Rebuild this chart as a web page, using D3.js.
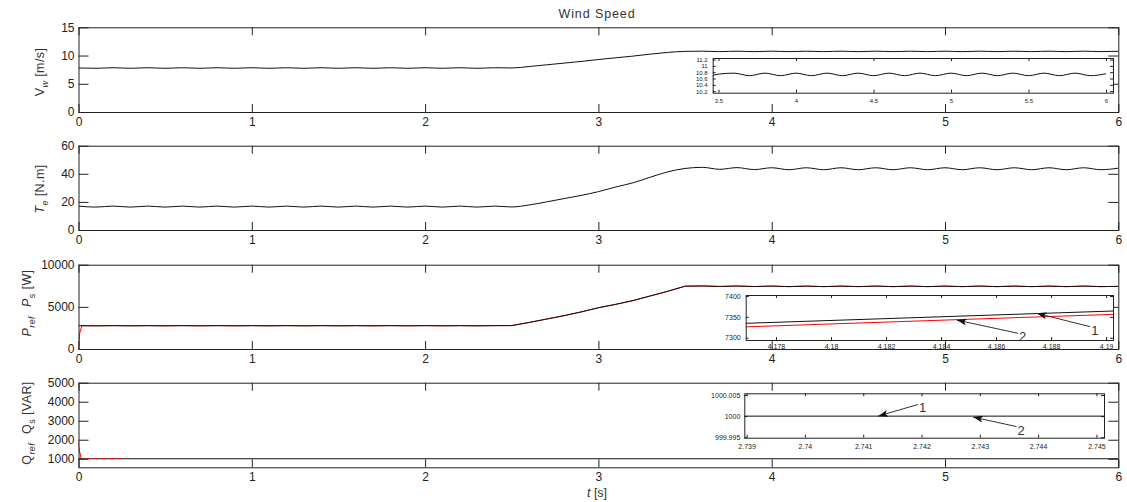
<!DOCTYPE html>
<html>
<head>
  <meta charset="utf-8">
  <title>Wind Speed</title>
  <style>
  body {
    margin: 0px;
    background: #fff;
  }
  svg {
    display: block;
    font-family: "Liberation Sans", Arial, sans-serif;
  }
  .line {
    fill: none;
    stroke: #111;
    stroke-width: 1px;
  }
  .ref {
    fill: none;
    stroke: #f00;
    stroke-width: 1px;
  }
  .frame {
    fill: none;
    stroke: #222;
    stroke-width: 1px;
  }
  .arrow {
    stroke: #333;
    stroke-width: 1px;
  }
  </style>
</head>
<body>
  <svg width="1127" height="502"></svg>
  <script src="https://d3js.org/d3.v7.min.js"></script>
  <script>
  var tGrid = [0, 0.1, 0.2, 0.3, 0.4, 0.5, 0.6, 0.7, 0.8, 0.9,
    1, 1.1, 1.2, 1.3, 1.4, 1.5, 1.6, 1.7, 1.8, 1.9,
    2, 2.1, 2.2, 2.3, 2.4, 2.5, 2.6, 2.7, 2.8, 2.9,
    3, 3.1, 3.2, 3.3, 3.4, 3.5, 3.6, 3.7, 3.8, 3.9,
    4, 4.1, 4.2, 4.3, 4.4, 4.5, 4.6, 4.7, 4.8, 4.9,
    5, 5.1, 5.2, 5.3, 5.4, 5.5, 5.6, 5.7, 5.8, 5.9, 6];

  var vWind = [7.80, 7.74, 7.84, 7.74, 7.84, 7.74, 7.84, 7.74, 7.84, 7.74,
    7.84, 7.74, 7.84, 7.74, 7.84, 7.74, 7.84, 7.74, 7.84, 7.74,
    7.84, 7.74, 7.84, 7.74, 7.84, 7.80, 8.05, 8.35, 8.65, 8.95,
    9.30, 9.60, 9.90, 10.25, 10.55, 10.74, 10.77, 10.69, 10.77, 10.69,
    10.77, 10.69, 10.77, 10.69, 10.77, 10.69, 10.77, 10.69, 10.77, 10.69,
    10.77, 10.69, 10.77, 10.69, 10.77, 10.69, 10.77, 10.69, 10.77, 10.69, 10.75];

  var torque = [17.0, 16.3, 17.0, 16.3, 17.0, 16.3, 17.0, 16.3, 17.0, 16.3,
    17.0, 16.3, 17.0, 16.3, 17.0, 16.3, 17.0, 16.3, 17.0, 16.3,
    17.0, 16.3, 17.0, 16.3, 17.0, 16.4, 17.8, 20.0, 22.3, 24.6,
    27.3, 30.6, 33.6, 37.6, 41.4, 43.8, 44.6, 43.2, 44.4, 43.0,
    44.3, 42.9, 44.3, 42.9, 44.3, 42.9, 44.3, 42.9, 44.3, 42.9,
    44.3, 42.9, 44.3, 42.9, 44.3, 42.9, 44.3, 42.9, 44.3, 42.9, 44.0];

  var pStator = [2770, 2750, 2770, 2750, 2770, 2750, 2770, 2750, 2770, 2750,
    2770, 2750, 2770, 2750, 2770, 2750, 2770, 2750, 2770, 2750,
    2770, 2750, 2770, 2750, 2770, 2780, 3150, 3550, 3950, 4400,
    4900, 5300, 5750, 6300, 6850, 7450, 7480, 7420, 7470, 7410,
    7460, 7400, 7460, 7400, 7460, 7400, 7460, 7400, 7460, 7400,
    7460, 7400, 7460, 7400, 7460, 7400, 7460, 7400, 7460, 7400, 7430];

  var pRefGrid = [2770, 2750, 2770, 2750, 2770, 2750, 2770, 2750, 2770, 2750,
    2770, 2750, 2770, 2750, 2770, 2750, 2770, 2750, 2770, 2750,
    2770, 2750, 2770, 2750, 2770, 2780, 3140, 3540, 3945, 4390,
    4890, 5295, 5740, 6290, 6845, 7450, 7480, 7420, 7470, 7410,
    7460, 7400, 7460, 7400, 7460, 7400, 7460, 7400, 7460, 7400,
    7460, 7400, 7460, 7400, 7460, 7400, 7460, 7400, 7460, 7400, 7430];
  var pRefStartTime = [0, 0.003, 0.008, 0.02];
  var pRefStartValue = [0, 1000, 2000, 2760];

  var qStatorTime = [0, 6];
  var qStatorValue = [1000, 1000];
  var qRefTime = [0, 0.002, 0.015];
  var qRefValue = [1900, 1600, 1000];
  var qRefDashTime = [0.045, 0.25];
  var qRefDashValue = [1012, 1012];

  // zoomed views
  var pInsetTime = [4.1769, 4.19025];
  var pInsetStator = [7334.5, 7364];
  var pInsetRef = [7326, 7356];
  var qInsetTime = [2.73896, 2.74513];
  var qInsetValue = [1000, 1000];

  // ticks
  var timeTicks = [0, 1, 2, 3, 4, 5, 6];
  var vTicks = [0, 5, 10, 15];
  var teTicks = [0, 20, 40, 60];
  var pTicks = [0, 5000, 10000];
  var qTicks = [1000, 2000, 3000, 4000, 5000];
  var vInsetXTicks = [3.5, 4, 4.5, 5, 5.5, 6];
  var vInsetXLabels = ["3.5", "4", "4.5", "5", "5.5", "6"];
  var vInsetYTicks = [10.2, 10.4, 10.6, 10.8, 11, 11.2];
  var vInsetYLabels = ["10.2", "10.4", "10.6", "10.8", "11", "11.2"];
  var pInsetXTicks = [4.178, 4.18, 4.182, 4.184, 4.186, 4.188, 4.19];
  var pInsetXLabels = ["4.178", "4.18", "4.182", "4.184", "4.186", "4.188", "4.19"];
  var pInsetYTicks = [7300, 7350, 7400];
  var qInsetXTicks = [2.739, 2.74, 2.741, 2.742, 2.743, 2.744, 2.745];
  var qInsetXLabels = ["2.739", "2.74", "2.741", "2.742", "2.743", "2.744", "2.745"];
  var qInsetYTicks = [999.995, 1000, 1000.005];
  var qInsetYLabels = ["999.995", "1000", "1000.005"];

  // arrow annotations in inset data coordinates
  var pArrowLabels = ["1", "2"];
  var pArrowTips = [[4.18748, 7358.5], [4.18457, 7342.4]];
  var pArrowTails = [[4.18942, 7326.4], [4.1868, 7310.5]];
  var qArrowLabels = ["1", "2"];
  var qArrowTips = [[2.741256, 1000], [2.742885, 999.99978]];
  var qArrowTails = [[2.74194, 1000.00276], [2.743629, 999.99753]];

  var svg = d3.select("svg");
  var defs = svg.append("defs");
  defs.append("marker")
    .attr("id", "head")
    .attr("markerUnits", "userSpaceOnUse")
    .attr("markerWidth", 11).attr("markerHeight", 7)
    .attr("refX", 10).attr("refY", 3.5)
    .attr("orient", "auto")
    .append("path")
    .attr("d", "M0,0L10,3.5L0,7L2.5,3.5Z")
    .attr("fill", "#111");

  var clipId = 0;
  function clip(x, y) {
    var id = "clip" + (clipId++);
    defs.append("clipPath").attr("id", id).append("rect")
      .attr("x", x.range()[0]).attr("y", y.range()[1])
      .attr("width", x.range()[1] - x.range()[0])
      .attr("height", y.range()[0] - y.range()[1]);
    return "url(#" + id + ")";
  }

  function styleAxis(a, font) {
    a.attr("font-family", null).attr("font-size", font);
    a.select(".domain").remove();
    a.selectAll("line").attr("stroke", "#222");
    a.selectAll("text").attr("fill", "#222");
  }

  // box with inward ticks on all four sides, like the original plotting tool
  function drawAxes(g, x, y, o) {
    var r = x.range(), b = y.range();
    g.append("rect").attr("fill", "#fff")
      .attr("x", r[0]).attr("y", b[1]).attr("width", r[1] - r[0]).attr("height", b[0] - b[1]);
    var ab = g.append("g").attr("transform", "translate(0," + b[0] + ")")
      .call(d3.axisBottom(x).tickValues(o.xTicks).tickFormat(function(d, i) { return o.xLabels[i]; })
        .tickSizeInner(-o.tx).tickSizeOuter(0).tickPadding(o.xPad));
    styleAxis(ab, o.font);
    var at = g.append("g").attr("transform", "translate(0," + b[1] + ")")
      .call(d3.axisTop(x).tickValues(o.xTicks).tickFormat("").tickSizeInner(-o.tx).tickSizeOuter(0));
    styleAxis(at, o.font);
    var al = g.append("g").attr("transform", "translate(" + r[0] + ",0)")
      .call(d3.axisLeft(y).tickValues(o.yTicks).tickFormat(function(d, i) { return o.yLabels[i]; })
        .tickSizeInner(-o.ty).tickSizeOuter(0).tickPadding(o.yPad));
    styleAxis(al, o.yFont || o.font);
    var ar = g.append("g").attr("transform", "translate(" + r[1] + ",0)")
      .call(d3.axisRight(y).tickValues(o.yTicks).tickFormat("").tickSizeInner(-o.ty).tickSizeOuter(0));
    styleAxis(ar, o.font);
  }

  function drawFrame(g, x, y) {
    var r = x.range(), b = y.range();
    g.append("rect").attr("class", "frame")
      .attr("x", r[0] + 0.5).attr("y", b[1] + 0.5).attr("width", r[1] - r[0]).attr("height", b[0] - b[1]);
  }

  function drawLine(g, x, y, times, values, cls, curve, cp) {
    var line = d3.line()
      .x(function(d) { return x(d[0]); })
      .y(function(d) { return y(d[1]); })
      .curve(curve || d3.curveMonotoneX);
    return g.append("path")
      .attr("class", cls)
      .attr("clip-path", cp)
      .attr("d", line(d3.zip(times, values)));
  }

  function drawArrows(g, x, y, labels, tips, tails) {
    labels.forEach(function(lab, i) {
      g.append("line").attr("class", "arrow")
        .attr("x1", x(tails[i][0])).attr("y1", y(tails[i][1]))
        .attr("x2", x(tips[i][0])).attr("y2", y(tips[i][1]))
        .attr("marker-end", "url(#head)");
      g.append("text")
        .attr("x", x(tails[i][0]) + 1).attr("y", y(tails[i][1]) + 8)
        .attr("font-size", "13px").attr("fill", "#333")
        .text(lab);
    });
  }

  var fmt = function(d) { return String(d); };
  var xMain = d3.scaleLinear().domain([0, 6]).range([78.5, 1118.3]);

  // ---- panel 1 : wind speed
  var g1 = svg.append("g");
  var y1 = d3.scaleLinear().domain([0, 15]).range([112, 27.3]);
  drawAxes(g1, xMain, y1, {xTicks: timeTicks, xLabels: timeTicks.map(fmt), yTicks: vTicks, yLabels: vTicks.map(fmt),
    tx: 8, ty: 10, xPad: 5, yPad: 4, font: "12px"});
  drawLine(g1, xMain, y1, tGrid, vWind, "line", null, clip(xMain, y1));
  drawFrame(g1, xMain, y1);

  var xi1 = d3.scaleLinear().domain([3.4626, 6.045]).range([712.7, 1113]);
  var yi1 = d3.scaleLinear().domain([10.15, 11.25]).range([92.7, 58]);
  drawAxes(g1, xi1, yi1, {xTicks: vInsetXTicks, xLabels: vInsetXLabels, yTicks: vInsetYTicks, yLabels: vInsetYLabels,
    tx: 3, ty: 3, xPad: 6, yPad: 5, font: "6px"});
  drawLine(g1, xi1, yi1, tGrid, vWind, "line", null, clip(xi1, yi1));
  drawFrame(g1, xi1, yi1);

  // ---- panel 2 : electromagnetic torque
  var g2 = svg.append("g");
  var y2 = d3.scaleLinear().domain([0, 60]).range([230, 145.7]);
  drawAxes(g2, xMain, y2, {xTicks: timeTicks, xLabels: timeTicks.map(fmt), yTicks: teTicks, yLabels: teTicks.map(fmt),
    tx: 8, ty: 10, xPad: 5, yPad: 4, font: "12px"});
  drawLine(g2, xMain, y2, tGrid, torque, "line", null, clip(xMain, y2));
  drawFrame(g2, xMain, y2);

  // ---- panel 3 : active power
  var g3 = svg.append("g");
  var y3 = d3.scaleLinear().domain([0, 10000]).range([349, 264.7]);
  drawAxes(g3, xMain, y3, {xTicks: timeTicks, xLabels: timeTicks.map(fmt), yTicks: pTicks, yLabels: pTicks.map(fmt),
    tx: 8, ty: 10, xPad: 5, yPad: 4, font: "12px"});
  var cp3 = clip(xMain, y3);
  drawLine(g3, xMain, y3, pRefStartTime.concat(tGrid.slice(1)), pRefStartValue.concat(pRefGrid.slice(1)), "ref", d3.curveLinear, cp3)
    .attr("stroke-width", 0.6);
  drawLine(g3, xMain, y3, tGrid, pStator, "line", d3.curveLinear, cp3).attr("stroke-width", 1.3);
  drawFrame(g3, xMain, y3);

  var xi3 = d3.scaleLinear().domain([4.1769, 4.19025]).range([745.7, 1113]);
  var yi3 = d3.scaleLinear().domain([7294.5, 7402.4]).range([340, 295]);
  drawAxes(g3, xi3, yi3, {xTicks: pInsetXTicks, xLabels: pInsetXLabels, yTicks: pInsetYTicks, yLabels: pInsetYTicks.map(fmt),
    tx: 3, ty: 3, xPad: 4, yPad: 5, font: "7px"});
  var cpi3 = clip(xi3, yi3);
  drawLine(g3, xi3, yi3, pInsetTime, pInsetRef, "ref", d3.curveLinear, cpi3).attr("stroke-width", 1.6);
  drawLine(g3, xi3, yi3, pInsetTime, pInsetStator, "line", d3.curveLinear, cpi3);
  drawFrame(g3, xi3, yi3);
  drawArrows(g3, xi3, yi3, pArrowLabels, pArrowTips, pArrowTails);

  // ---- panel 4 : reactive power
  var g4 = svg.append("g");
  var y4 = d3.scaleLinear().domain([550, 5000]).range([467.3, 382.7]);
  drawAxes(g4, xMain, y4, {xTicks: timeTicks, xLabels: timeTicks.map(fmt), yTicks: qTicks, yLabels: qTicks.map(fmt),
    tx: 8, ty: 10, xPad: 5, yPad: 4, font: "12px"});
  var cp4 = clip(xMain, y4);
  drawLine(g4, xMain, y4, qRefTime, qRefValue, "ref", d3.curveLinear, cp4);
  drawLine(g4, xMain, y4, qStatorTime, qStatorValue, "line", d3.curveLinear, cp4);
  drawLine(g4, xMain, y4, qRefDashTime, qRefDashValue, "ref", d3.curveLinear, cp4)
    .attr("stroke-dasharray", "4,4").attr("stroke-width", 1.3);
  drawFrame(g4, xMain, y4);

  var xi4 = d3.scaleLinear().domain([2.73896, 2.74513]).range([744.3, 1104]);
  var yi4 = d3.scaleLinear().domain([999.9949, 1000.0054]).range([437.7, 393.3]);
  drawAxes(g4, xi4, yi4, {xTicks: qInsetXTicks, xLabels: qInsetXLabels, yTicks: qInsetYTicks, yLabels: qInsetYLabels,
    tx: 3, ty: 3, xPad: 6, yPad: 4, font: "7px"});
  drawLine(g4, xi4, yi4, qInsetTime, qInsetValue, "line", d3.curveLinear, clip(xi4, yi4))
    .attr("stroke", "#444").attr("stroke-width", 1.5);
  drawFrame(g4, xi4, yi4);
  drawArrows(g4, xi4, yi4, qArrowLabels, qArrowTips, qArrowTails);

  // ---- texts
  svg.append("text")
    .attr("x", 597).attr("y", 18)
    .attr("text-anchor", "middle")
    .attr("font-size", "12.5px").attr("letter-spacing", "0.9px").attr("fill", "#333")
    .text("Wind Speed");

  var xl = svg.append("text")
    .attr("x", 597).attr("y", 497)
    .attr("text-anchor", "middle")
    .attr("font-size", "12.5px").attr("fill", "#333");
  xl.append("tspan").attr("font-style", "italic").text("t");
  xl.append("tspan").text(" [s]");

  function yLabel(x, y, parts) {
    var t = svg.append("text")
      .attr("transform", "translate(" + x + "," + y + ") rotate(-90)")
      .attr("text-anchor", "middle")
      .attr("font-size", "12.5px").attr("letter-spacing", "0.4px").attr("fill", "#333");
    parts.forEach(function(p) {
      var s = t.append("tspan").text(p.s);
      if (p.i) s.attr("font-style", "italic");
      if (p.sub) s.attr("font-size", "9px").attr("dy", 4);
      if (p.up) s.attr("dy", -4);
      if (p.dx) s.attr("dx", p.dx);
    });
  }

  yLabel(44, 72, [{s: "V"}, {s: "w", sub: 1, i: 1}, {s: " [m/s]", up: 1}]);
  yLabel(44, 189, [{s: "T", i: 1}, {s: "e", sub: 1, i: 1}, {s: " [N.m]", up: 1}]);
  yLabel(31, 303, [{s: "P", i: 1}, {s: "ref", sub: 1, i: 1}, {s: "P", i: 1, up: 1, dx: 9}, {s: "s", sub: 1}, {s: " [W]", up: 1}]);
  yLabel(31, 423, [{s: "Q"}, {s: "ref", sub: 1, i: 1}, {s: "Q", up: 1, dx: 9}, {s: "s", sub: 1}, {s: " [VAR]", up: 1}]);
  </script>
</body>
</html>
